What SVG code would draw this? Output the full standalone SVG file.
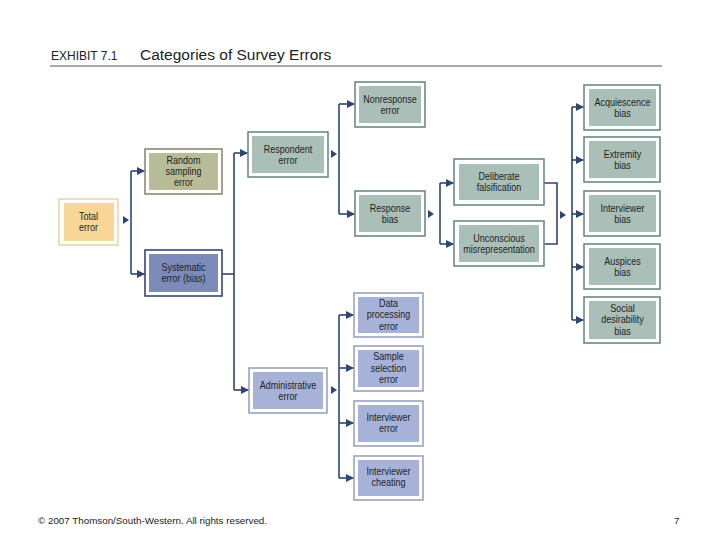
<svg xmlns="http://www.w3.org/2000/svg" width="720" height="540" viewBox="0 0 720 540">
<style>
.bg{fill:#ffffff}
.o{fill:#ffffff;stroke-width:1.6}
.t{font-family:"Liberation Sans",Arial,sans-serif;font-size:10.5px;fill:#1e1e1e;text-anchor:middle;transform-box:fill-box;transform-origin:center;transform:scaleX(0.86)}
.c{fill:none;stroke:#2e4670;stroke-width:1.6}
.h{fill:#2e4670}
.or{stroke:#e8d6a6}.ir{fill:#f8d697}
.og{stroke:#8a8a70}.ig{fill:#b8bc98}
.ob{stroke:#34467a}.ib{fill:#7d8bba}
.ot{stroke:#6b8a84}.it{fill:#aabfb8}
.op{stroke:#9aa2c0}.ip{fill:#a6b2d8}
.hd{font-family:"Liberation Sans",Arial,sans-serif;fill:#222}
</style>
<defs>
<marker id="a" viewBox="0 0 8 8" refX="8" refY="4" markerWidth="8" markerHeight="8" markerUnits="userSpaceOnUse" orient="auto">
<path d="M0,0 L8,4 L0,8 Z" fill="#2e4670"/>
</marker>
</defs>
<rect class="bg" x="0" y="0" width="720" height="540"/>
<g id="header">
<text class="hd" x="51" y="60" font-size="12" fill="#333">EXHIBIT 7.1</text>
<text class="hd" x="140" y="60" font-size="15.5">Categories of Survey Errors</text>
<line x1="50" y1="66" x2="662" y2="66" stroke="#555" stroke-width="1"/>
</g>
<g id="connectors">
<path class="h" d="M123,216 L129,220 L123,224 Z"/>
<path class="c" d="M131,171 L131,274"/>
<path class="c" d="M131,171 L145,171" marker-end="url(#a)"/>
<path class="c" d="M131,274 L145,274" marker-end="url(#a)"/>
<path class="c" d="M222,274 L234,274"/>
<path class="c" d="M234,153 L234,390"/>
<path class="c" d="M234,153 L248,153" marker-end="url(#a)"/>
<path class="c" d="M234,390 L249,390" marker-end="url(#a)"/>
<path class="h" d="M331,150 L337,154 L331,158 Z"/>
<path class="c" d="M339,104 L339,214"/>
<path class="c" d="M339,104 L355,104" marker-end="url(#a)"/>
<path class="c" d="M339,214 L355,214" marker-end="url(#a)"/>
<path class="h" d="M428,210 L434,214 L428,218 Z"/>
<path class="c" d="M440,183 L440,244"/>
<path class="c" d="M440,183 L454,183" marker-end="url(#a)"/>
<path class="c" d="M440,244 L454,244" marker-end="url(#a)"/>
<path class="c" d="M544,183 L557,183 L557,244 L544,244"/>
<path class="h" d="M560,211 L566,215 L560,219 Z"/>
<path class="c" d="M572,107 L572,320"/>
<path class="c" d="M572,107 L584,107" marker-end="url(#a)"/>
<path class="c" d="M572,160 L584,160" marker-end="url(#a)"/>
<path class="c" d="M572,214 L584,214" marker-end="url(#a)"/>
<path class="c" d="M572,267 L584,267" marker-end="url(#a)"/>
<path class="c" d="M572,320 L584,320" marker-end="url(#a)"/>
<path class="h" d="M331,386 L337,390 L331,394 Z"/>
<path class="c" d="M339,315 L339,478"/>
<path class="c" d="M339,315 L354,315" marker-end="url(#a)"/>
<path class="c" d="M339,368 L354,368" marker-end="url(#a)"/>
<path class="c" d="M339,423 L354,423" marker-end="url(#a)"/>
<path class="c" d="M339,478 L354,478" marker-end="url(#a)"/>
</g>
<g id="total">
<rect class="o or" x="59" y="199" width="59" height="46"/>
<rect class="ir" x="64" y="203" width="50" height="38"/>
<text class="t" x="88.5" y="220">Total</text>
<text class="t" x="88.5" y="231">error</text>
</g>
<g id="random">
<rect class="o og" x="145" y="149" width="77" height="45"/>
<rect class="ig" x="149" y="153" width="69" height="37"/>
<text class="t" x="183.5" y="164">Random</text>
<text class="t" x="183.5" y="175">sampling</text>
<text class="t" x="183.5" y="186">error</text>
</g>
<g id="systematic">
<rect class="o ob" x="145" y="250" width="77" height="46"/>
<rect class="ib" x="149" y="254" width="69" height="38"/>
<text class="t" x="183.5" y="271">Systematic</text>
<text class="t" x="183.5" y="282">error (bias)</text>
</g>
<g id="respondent">
<rect class="o ot" x="248" y="132" width="80" height="45"/>
<rect class="it" x="252" y="136" width="72" height="37"/>
<text class="t" x="288" y="153">Respondent</text>
<text class="t" x="288" y="164">error</text>
</g>
<g id="nonresponse">
<rect class="o ot" x="355" y="82" width="70" height="45"/>
<rect class="it" x="359" y="86" width="62" height="37"/>
<text class="t" x="390" y="103">Nonresponse</text>
<text class="t" x="390" y="114">error</text>
</g>
<g id="responsebias">
<rect class="o ot" x="355" y="191" width="70" height="45"/>
<rect class="it" x="359" y="195" width="62" height="37"/>
<text class="t" x="390" y="212">Response</text>
<text class="t" x="390" y="223">bias</text>
</g>
<g id="deliberate">
<rect class="o ot" x="454" y="159" width="90" height="46"/>
<rect class="it" x="459" y="164" width="80" height="36"/>
<text class="t" x="499" y="180">Deliberate</text>
<text class="t" x="499" y="191">falsification</text>
</g>
<g id="unconscious">
<rect class="o ot" x="454" y="221" width="90" height="45"/>
<rect class="it" x="459" y="225" width="80" height="37"/>
<text class="t" x="499" y="242">Unconscious</text>
<text class="t" x="499" y="253">misrepresentation</text>
</g>
<g id="acquiescence">
<rect class="o ot" x="584" y="85" width="76" height="45"/>
<rect class="it" x="589" y="89" width="67" height="37"/>
<text class="t" x="622.5" y="106">Acquiescence</text>
<text class="t" x="622.5" y="117">bias</text>
</g>
<g id="extremity">
<rect class="o ot" x="584" y="137" width="76" height="45"/>
<rect class="it" x="589" y="141" width="67" height="37"/>
<text class="t" x="622.5" y="158">Extremity</text>
<text class="t" x="622.5" y="169">bias</text>
</g>
<g id="interviewerbias">
<rect class="o ot" x="584" y="191" width="76" height="45"/>
<rect class="it" x="589" y="195" width="67" height="37"/>
<text class="t" x="622.5" y="212">Interviewer</text>
<text class="t" x="622.5" y="223">bias</text>
</g>
<g id="auspices">
<rect class="o ot" x="584" y="244" width="76" height="45"/>
<rect class="it" x="589" y="248" width="67" height="37"/>
<text class="t" x="622.5" y="265">Auspices</text>
<text class="t" x="622.5" y="276">bias</text>
</g>
<g id="social">
<rect class="o ot" x="584" y="297" width="76" height="46"/>
<rect class="it" x="589" y="301" width="67" height="38"/>
<text class="t" x="622.5" y="312">Social</text>
<text class="t" x="622.5" y="323.5">desirability</text>
<text class="t" x="622.5" y="335">bias</text>
</g>
<g id="administrative">
<rect class="o op" x="249" y="368" width="78" height="45"/>
<rect class="ip" x="253" y="372" width="70" height="37"/>
<text class="t" x="288" y="389">Administrative</text>
<text class="t" x="288" y="400">error</text>
</g>
<g id="dataprocessing">
<rect class="o op" x="354" y="293" width="69" height="44"/>
<rect class="ip" x="358" y="297" width="61" height="36"/>
<text class="t" x="388.5" y="307">Data</text>
<text class="t" x="388.5" y="318.5">processing</text>
<text class="t" x="388.5" y="330">error</text>
</g>
<g id="sampleselection">
<rect class="o op" x="354" y="346" width="69" height="45"/>
<rect class="ip" x="358" y="350" width="61" height="37"/>
<text class="t" x="388.5" y="360.5">Sample</text>
<text class="t" x="388.5" y="372">selection</text>
<text class="t" x="388.5" y="383.5">error</text>
</g>
<g id="interviewererror">
<rect class="o op" x="354" y="401" width="69" height="45"/>
<rect class="ip" x="358" y="405" width="61" height="37"/>
<text class="t" x="388.5" y="421">Interviewer</text>
<text class="t" x="388.5" y="432">error</text>
</g>
<g id="interviewercheating">
<rect class="o op" x="354" y="456" width="69" height="44"/>
<rect class="ip" x="358" y="460" width="61" height="36"/>
<text class="t" x="388.5" y="475">Interviewer</text>
<text class="t" x="388.5" y="486">cheating</text>
</g>
<g id="footer">
<text class="hd" x="38" y="524" font-size="9.8">© 2007 Thomson/South-Western. All rights reserved.</text>
<text class="hd" x="674" y="524" font-size="9.8">7</text>
</g>
</svg>
